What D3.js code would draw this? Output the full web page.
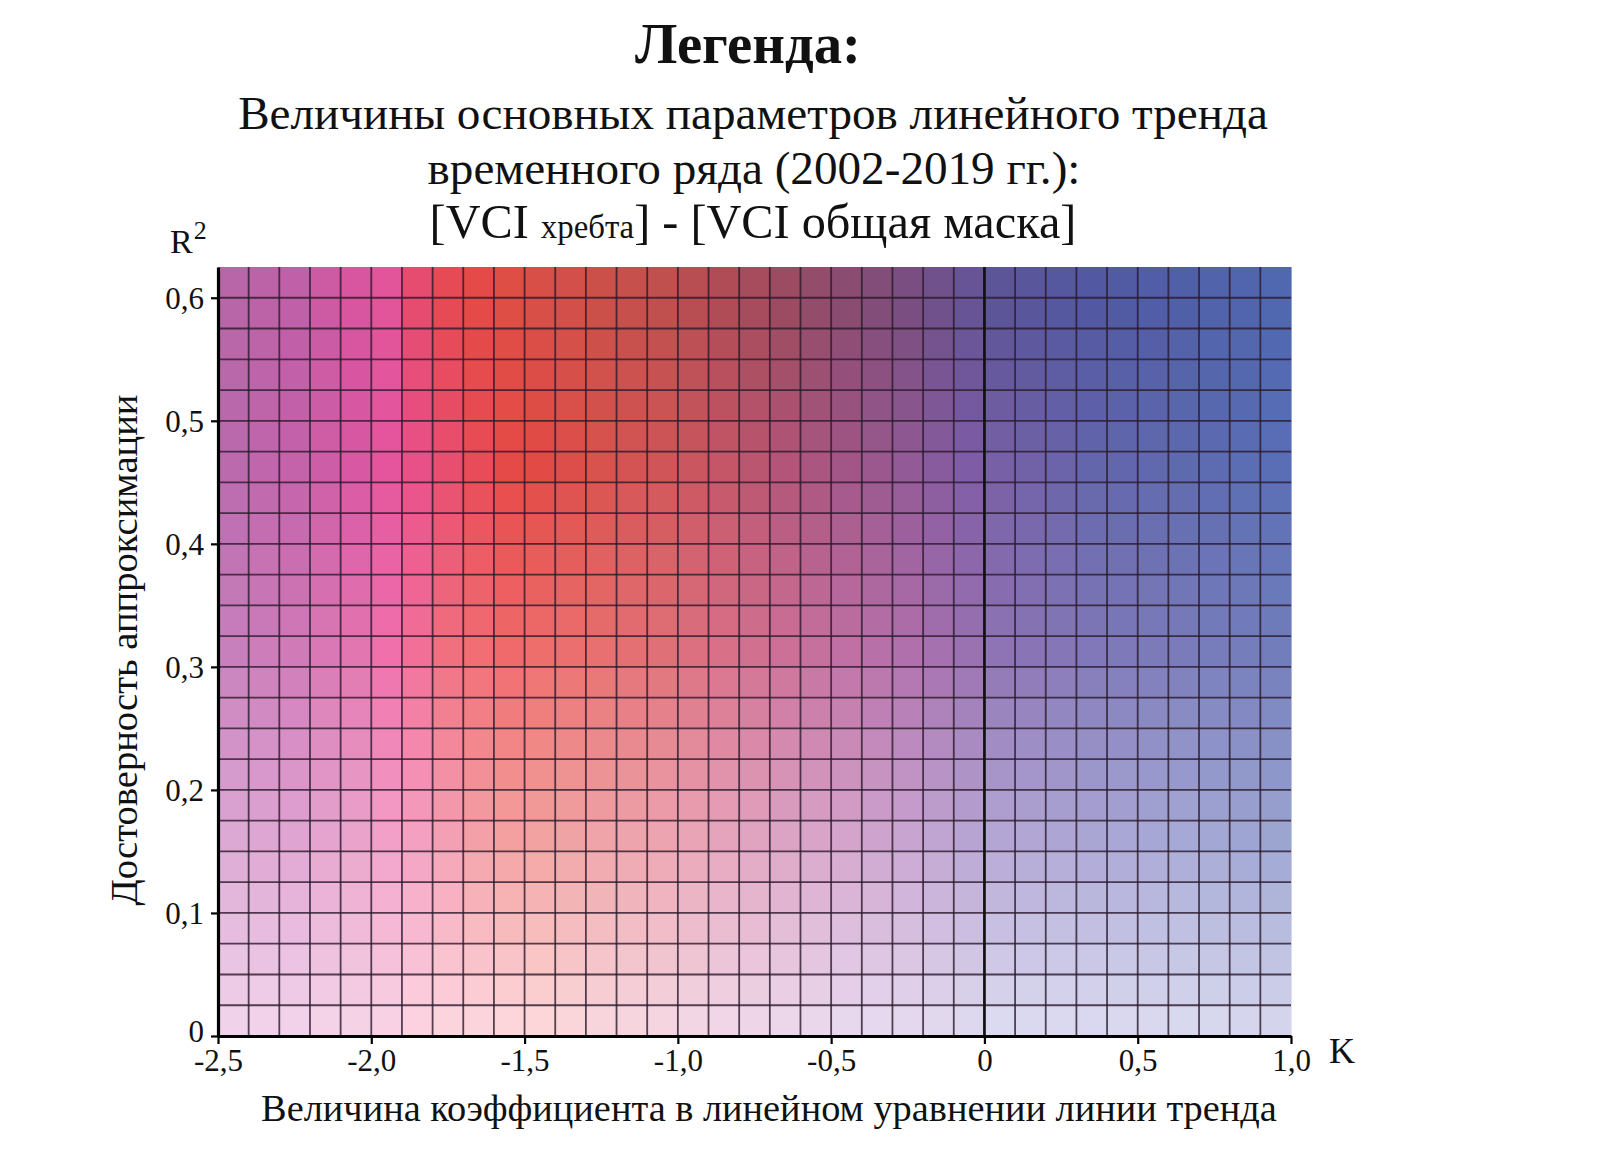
<!DOCTYPE html>
<html><head><meta charset="utf-8">
<script src="https://cdn.jsdelivr.net/npm/d3@7/dist/d3.min.js"></script>
<style>body{margin:0;background:#fff}svg{display:block}text{font-family:"Liberation Serif","Times New Roman",serif;fill:#111}</style>
</head><body>
<script>
// ---- data ----
const kDomain = [-2.5, 1.0];
const r2Domain = [0, 0.625];
const kStep = 0.1;
const r2Step = 0.025;
const xTicks = [-2.5, -2.0, -1.5, -1.0, -0.5, 0, 0.5, 1.0];
const yTicks = [0, 0.1, 0.2, 0.3, 0.4, 0.5, 0.6];
// colour samples: K at cell centres, per R² row level
const colorK = [-2.45,-2.25,-2.05,-1.95,-1.85,-1.75,-1.65,-1.55,-1.45,-1.25,-1.05,-0.85,-0.65,-0.45,-0.25,-0.05,0.05,0.35,0.65,0.95];
const colorR2 = [0.5875, 0.4625, 0.3125, 0.1625, 0.0125];
const row059 = ['#b866a8','#c060a8','#d8559f','#e2559a','#e64c70','#e64a55','#e44a48','#de4e45','#d84f48','#cc504a','#c0504e','#b04c55','#9c4c62','#8a4c70','#7a4e80','#665496','#5c5598','#5258a2','#5060a8','#5068b0'];
const row046 = ['#bb6aae','#c462aa','#d858a4','#e4559e','#e85088','#e84e70','#e84c58','#e64a48','#e24a45','#d8524e','#d05558','#c45668','#b25578','#a25688','#925a96','#7e5ca6','#7860a6','#6466ac','#5e6aae','#5a6eb6'];
const row031 = ['#c880bc','#d07ab8','#e276b0','#f070ac','#f27098','#f07080','#f06e74','#f06a6c','#ee6e6c','#e87070','#e07078','#d87088','#cc7098','#c070a4','#b070ac','#9a72b2','#8e74b4','#8078b8','#7a7cba','#727ebc'];
const row016 = ['#dca8d4','#e0a4d2','#eaa4cc','#f2a0c8','#f4a0c0','#f4a0b4','#f4a0a8','#f4a0a0','#f2a2a0','#eea4a8','#eca4b0','#e6a4bc','#dca4c4','#d4a4cc','#c8a4d0','#b8a4d2','#b4a6d4','#aaa6d4','#a6a8d6','#9ca4d0'];
const row001 = ['#f0d2ea','#f2d2ea','#f6d2e6','#f8d2e4','#fcd2e0','#fcd4de','#fcd5dc','#fcd6da','#fcd6d8','#f8d5dc','#f4d5e0','#f0d6e6','#ecd6ea','#e8d8ee','#e4d8ee','#ded8ee','#dcdaf0','#dad8f0','#d8d8ee','#d4d4ec'];
const colorRows = [row059, row046, row031, row016, row001];
const titleText = 'Легенда:';
const subLines = ['Величины основных параметров линейного тренда', 'временного ряда (2002-2019 гг.):'];
const xLabel = 'Величина коэффициента в линейном уравнении линии тренда';
const yLabel = 'Достоверность аппроксимации';

// ---- layout ----
const W = 1604, H = 1167;
const svg = d3.select('body').append('svg').attr('width', W).attr('height', H);
const x = d3.scaleLinear().domain(kDomain).range([218, 1291]);
const y = d3.scaleLinear().domain(r2Domain).range([1036, 267]);

const rowScales = colorRows.map(r => d3.scaleLinear().domain(colorK).range(r).clamp(true));
function cellColor(k, r) {
  const cols = rowScales.map(s => s(k));
  return d3.scaleLinear().domain(colorR2).range(cols).clamp(true)(r);
}

const nK = Math.round((kDomain[1] - kDomain[0]) / kStep);
const nR = Math.round((r2Domain[1] - r2Domain[0]) / r2Step);
const cells = [];
for (let i = 0; i < nK; i++) for (let j = 0; j < nR; j++) {
  const k0 = kDomain[0] + i * kStep, r0 = r2Domain[0] + j * r2Step;
  cells.push({k0, k1: k0 + kStep, r0, r1: r0 + r2Step});
}
svg.append('g').selectAll('rect').data(cells).join('rect')
  .attr('x', d => x(d.k0)).attr('y', d => y(d.r1))
  .attr('width', d => x(d.k1) - x(d.k0) + 0.6).attr('height', d => y(d.r0) - y(d.r1) + 0.6)
  .attr('fill', d => cellColor((d.k0 + d.k1) / 2, (d.r0 + d.r1) / 2));

// grid lines
const g = svg.append('g').attr('stroke', '#2a1a2c').attr('stroke-opacity', 0.8).attr('stroke-width', 1.8);
for (let i = 1; i < nK; i++) {
  const k = kDomain[0] + i * kStep;
  g.append('line').attr('x1', x(k)).attr('x2', x(k)).attr('y1', y(r2Domain[1])).attr('y2', y(0));
}
for (let j = 1; j < nR; j++) {
  const r = r2Domain[0] + j * r2Step;
  g.append('line').attr('x1', x(kDomain[0])).attr('x2', x(kDomain[1])).attr('y1', y(r)).attr('y2', y(r));
}
// zero line
svg.append('line').attr('x1', x(0)).attr('x2', x(0)).attr('y1', y(r2Domain[1])).attr('y2', y(0))
  .attr('stroke', '#111').attr('stroke-width', 2.6);

const fmt = d => d === 0 ? '0' : (d < 0 ? '-' : '') + Math.abs(d).toFixed(1).replace('.', ',');

// axes
const ax = svg.append('g').attr('transform', `translate(0,${y(0)})`)
  .call(d3.axisBottom(x).tickValues(xTicks).tickFormat(fmt).tickSize(8).tickSizeOuter(0));
ax.select('.domain').attr('stroke', '#000').attr('stroke-width', 3.2);
ax.selectAll('.tick line').attr('stroke', '#000').attr('stroke-width', 2.2);
ax.selectAll('.tick text').attr('font-size', 31).attr('font-family', 'Liberation Serif').attr('fill', '#111')
  .attr('y', 35).attr('dy', 0);

const ay = svg.append('g').attr('transform', `translate(${x(kDomain[0])},0)`)
  .call(d3.axisLeft(y).tickValues(yTicks).tickFormat(fmt).tickSize(7).tickSizeOuter(0));
ay.select('.domain').attr('stroke', '#000').attr('stroke-width', 3.2);
ay.selectAll('.tick line').attr('stroke', '#000').attr('stroke-width', 2.2);
ay.selectAll('.tick text').attr('font-size', 31).attr('font-family', 'Liberation Serif').attr('fill', '#111')
  .attr('x', -14).attr('dy', d => d === 0 ? '0.18em' : '0.34em');

function fit(sel, w) {
  const fs = parseFloat(sel.attr('font-size'));
  const l = sel.node().getComputedTextLength();
  sel.attr('font-size', fs * w / l);
}

// titles
const t = svg.append('text').attr('x', 748).attr('y', 63).attr('text-anchor', 'middle')
  .attr('font-weight', 'bold').attr('font-size', 46).text(titleText);
fit(t, 226);
const s1 = svg.append('text').attr('x', 753).attr('y', 129).attr('text-anchor', 'middle').attr('font-size', 44).text(subLines[0]);
fit(s1, 1030);
const s2 = svg.append('text').attr('x', 754).attr('y', 184).attr('text-anchor', 'middle').attr('font-size', 44).text(subLines[1]);
fit(s2, 653);
const s3 = svg.append('text').attr('x', 753).attr('y', 238).attr('text-anchor', 'middle').attr('font-size', 44);
s3.append('tspan').text('[VCI ');
s3.append('tspan').attr('font-size', '0.68em').text('хребта');
s3.append('tspan').text('] - [VCI общая маска]');
fit(s3, 647);

// axis letters
const rt = svg.append('text').attr('x', 170).attr('y', 253).attr('font-size', 34);
rt.append('tspan').text('R');
rt.append('tspan').attr('font-size', 26).attr('dx', 1).attr('dy', -14).text('2');
svg.append('text').attr('x', 1329).attr('y', 1063).attr('font-size', 36).text('K');

// axis titles
const xl = svg.append('text').attr('x', 769).attr('y', 1121).attr('text-anchor', 'middle').attr('font-size', 34).text(xLabel);
fit(xl, 1016);
const yl = svg.append('text').attr('transform', 'translate(137,650) rotate(-90)').attr('text-anchor', 'middle').attr('font-size', 34).text(yLabel);
fit(yl, 511);
</script>
</body></html>
